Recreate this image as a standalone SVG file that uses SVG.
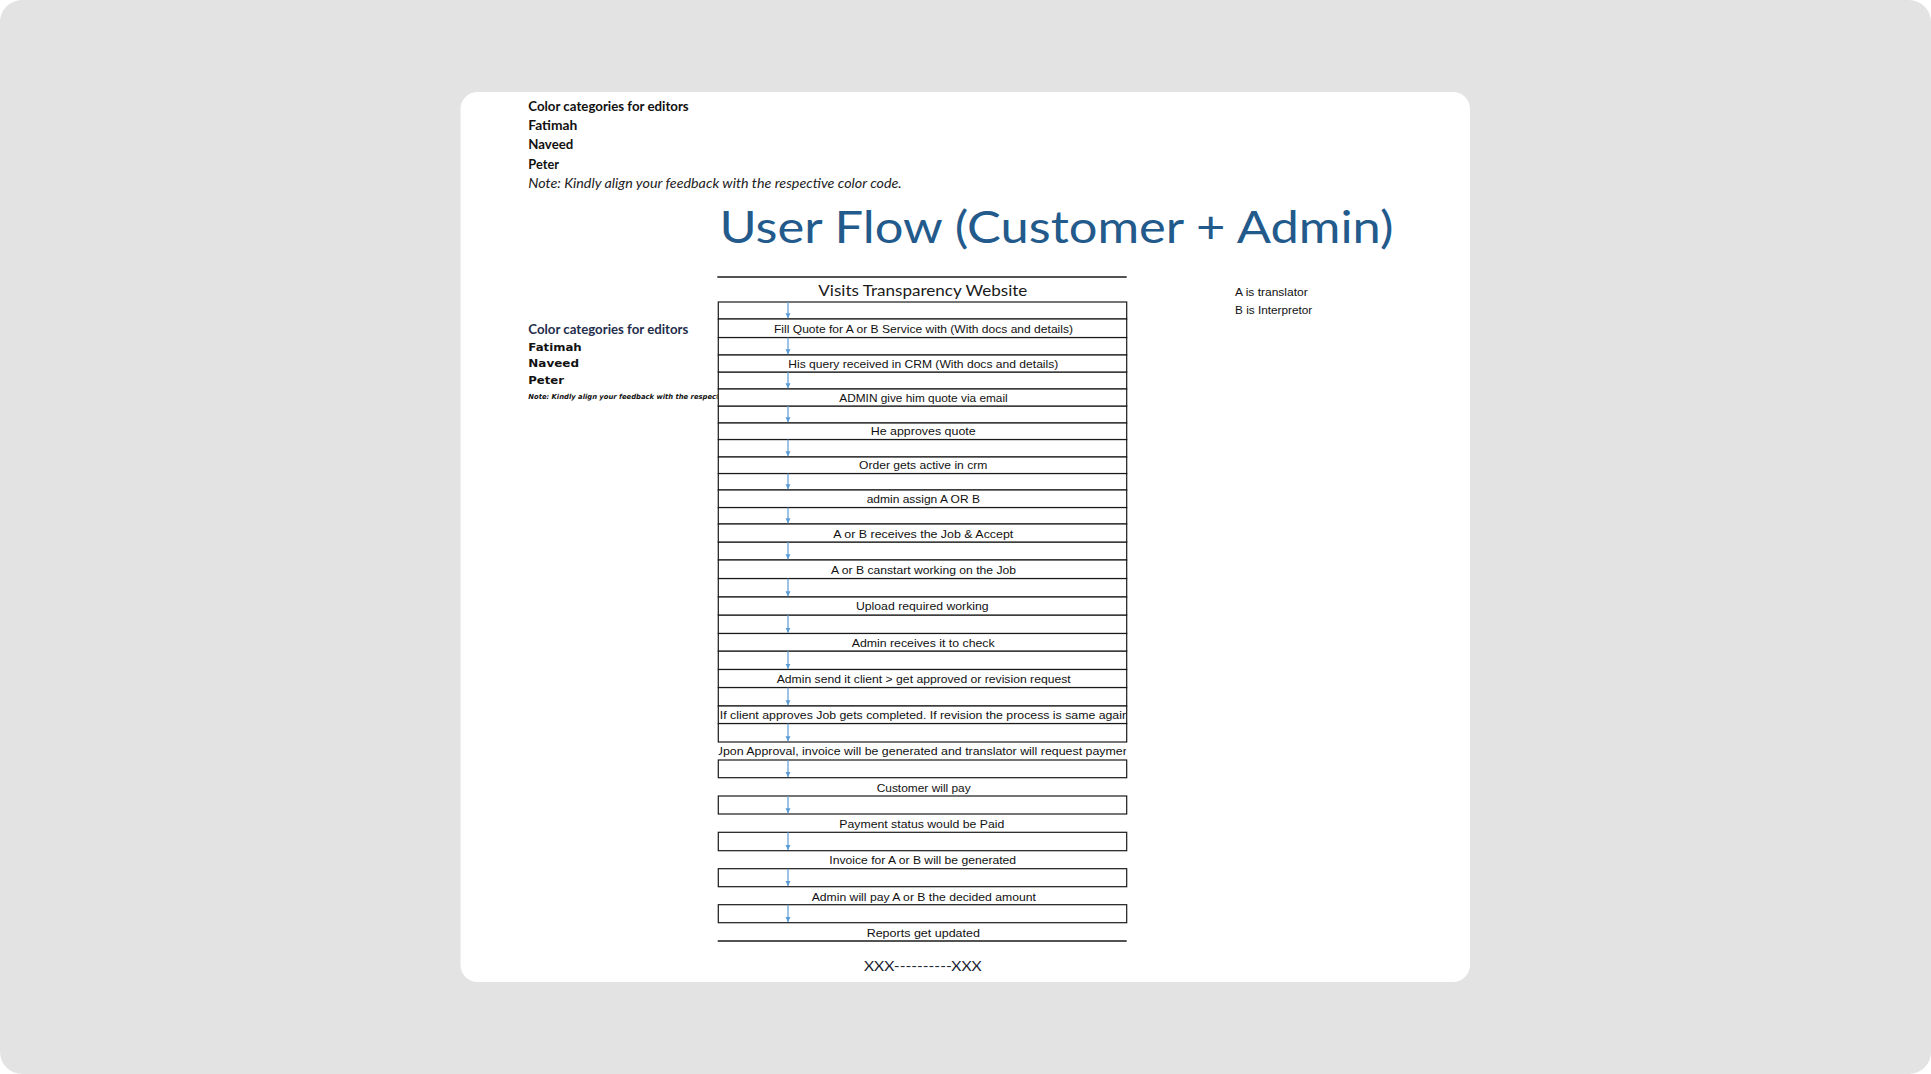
<svg xmlns="http://www.w3.org/2000/svg" width="1931" height="1074" viewBox="0 0 1931 1074">
<style>
.cell{fill:#fff;stroke:#1a1a1a;stroke-width:1.2}
.rule{stroke:#1a1a1a;stroke-width:1.3}
.lbl{font-family:"Liberation Sans",Arial,sans-serif;font-size:11.5px;fill:#111;text-anchor:middle}
.leg{font-family:Lato,"Liberation Sans",Arial,sans-serif;font-size:13px;font-weight:bold;fill:#111}
.leg2{font-family:"DejaVu Sans",Verdana,sans-serif;font-size:10px;font-weight:bold;fill:#111}
.note{font-family:Lato,"Liberation Sans",Arial,sans-serif;font-size:13px;font-style:italic;fill:#222}
.side{font-family:"Liberation Sans",Arial,sans-serif;font-size:11.5px;fill:#111}
.arrow{stroke:#5B9BD5;stroke-width:1.2;fill:none;marker-end:url(#ah)}
</style>
<defs>
<marker id="ah" viewBox="0 0 10 10" refX="10" refY="5" markerUnits="userSpaceOnUse" markerWidth="5" markerHeight="5.5" orient="auto">
<path d="M0,0 L10,5 L0,10 z" fill="#5B9BD5"/>
</marker>
<clipPath id="tclip"><rect x="718.6" y="690" width="407.6" height="80"/></clipPath>
<clipPath id="nclip"><rect x="520" y="390" width="197.5" height="15"/></clipPath>
</defs>

<g id="background">
<rect x="0" y="0" width="1931" height="1074" fill="#ffffff"/>
<rect x="0" y="0" width="1931" height="1074" rx="22" fill="#e3e3e3"/>
<rect x="460.5" y="92" width="1009.5" height="890" rx="17" fill="#ffffff"/>
</g>

<g id="legend-top">
<text class="leg" x="528.3" y="111" textLength="160.4" lengthAdjust="spacingAndGlyphs">Color categories for editors</text>
<text class="leg" x="528.3" y="130" textLength="49" lengthAdjust="spacingAndGlyphs">Fatimah</text>
<text class="leg" x="528.3" y="149.3" textLength="45" lengthAdjust="spacingAndGlyphs">Naveed</text>
<text class="leg" x="528.3" y="168.8" textLength="30.7" lengthAdjust="spacingAndGlyphs">Peter</text>
<text class="note" x="528.3" y="188.3" textLength="373.4" lengthAdjust="spacingAndGlyphs">Note: Kindly align your feedback with the respective color code.</text>
</g>

<g id="title">
<text x="719.5" y="242.5" font-family="Lato,'Open Sans',sans-serif" font-size="45" fill="#235a8c" textLength="674" lengthAdjust="spacingAndGlyphs">User Flow (Customer + Admin)</text>
</g>

<g id="legend-side">
<text class="leg" x="528.3" y="334.3" style="fill:#1f2d4d" textLength="160" lengthAdjust="spacingAndGlyphs">Color categories for editors</text>
<text class="leg2" x="528.3" y="350.7" textLength="53.4" lengthAdjust="spacingAndGlyphs">Fatimah</text>
<text class="leg2" x="528.3" y="367.3" textLength="50.7" lengthAdjust="spacingAndGlyphs">Naveed</text>
<text class="leg2" x="528.3" y="384" textLength="35.7" lengthAdjust="spacingAndGlyphs">Peter</text>
<g clip-path="url(#nclip)">
<text x="528.3" y="399.3" font-family="'DejaVu Sans',sans-serif" font-size="7" font-weight="bold" font-style="italic" fill="#111" textLength="247" lengthAdjust="spacingAndGlyphs">Note: Kindly align your feedback with the respective color code.</text>
</g>
</g>

<g id="notes-right">
<text class="side" x="1235" y="296" textLength="72.7" lengthAdjust="spacingAndGlyphs">A is translator</text>
<text class="side" x="1235" y="314.3" textLength="77.3" lengthAdjust="spacingAndGlyphs">B is Interpretor</text>
</g>

<g id="grid">
<rect class="cell" x="718.3" y="302" width="408.4" height="17"/>
<rect class="cell" x="718.3" y="337.5" width="408.4" height="17.5"/>
<rect class="cell" x="718.3" y="372" width="408.4" height="17"/>
<rect class="cell" x="718.3" y="406" width="408.4" height="17"/>
<rect class="cell" x="718.3" y="439.5" width="408.4" height="17.5"/>
<rect class="cell" x="718.3" y="473.5" width="408.4" height="16.5"/>
<rect class="cell" x="718.3" y="507.5" width="408.4" height="16.5"/>
<rect class="cell" x="718.3" y="542" width="408.4" height="18"/>
<rect class="cell" x="718.3" y="578.5" width="408.4" height="18.5"/>
<rect class="cell" x="718.3" y="615" width="408.4" height="18.5"/>
<rect class="cell" x="718.3" y="651" width="408.4" height="18.5"/>
<rect class="cell" x="718.3" y="687.5" width="408.4" height="18.5"/>
<rect class="cell" x="718.3" y="723.5" width="408.4" height="18.5"/>
<rect class="cell" x="718.3" y="760" width="408.4" height="17.7"/>
<rect class="cell" x="718.3" y="796" width="408.4" height="18"/>
<rect class="cell" x="718.3" y="832.3" width="408.4" height="18.4"/>
<rect class="cell" x="718.3" y="868.7" width="408.4" height="18"/>
<rect class="cell" x="718.3" y="904.7" width="408.4" height="18"/>
</g>

<g id="n0">
<line class="rule" x1="717.3" y1="277" x2="1126.7" y2="277"/>
<text x="922.8" y="295.7" font-family="Lato,'Open Sans',sans-serif" font-size="16" fill="#1a1a1a" text-anchor="middle" textLength="209" lengthAdjust="spacingAndGlyphs">Visits Transparency Website</text>
</g>
<g id="n1"><rect class="cell" x="718.3" y="319" width="408.4" height="18.5"/><text class="lbl" x="923.5" y="333.3" textLength="299" lengthAdjust="spacingAndGlyphs">Fill Quote for A or B Service with (With docs and details)</text></g>
<g id="n2"><rect class="cell" x="718.3" y="355" width="408.4" height="17"/><text class="lbl" x="923.3" y="367.5" textLength="270" lengthAdjust="spacingAndGlyphs">His query received in CRM (With docs and details)</text></g>
<g id="n3"><rect class="cell" x="718.3" y="389" width="408.4" height="17"/><text class="lbl" x="923.5" y="401.7" textLength="168.4" lengthAdjust="spacingAndGlyphs">ADMIN give him quote via email</text></g>
<g id="n4"><rect class="cell" x="718.3" y="423" width="408.4" height="16.5"/><text class="lbl" x="923.2" y="435" textLength="105" lengthAdjust="spacingAndGlyphs">He approves quote</text></g>
<g id="n5"><rect class="cell" x="718.3" y="457" width="408.4" height="16.5"/><text class="lbl" x="923.2" y="468.5" textLength="128.3" lengthAdjust="spacingAndGlyphs">Order gets active in crm</text></g>
<g id="n6"><rect class="cell" x="718.3" y="490" width="408.4" height="17.5"/><text class="lbl" x="923.3" y="502.7" textLength="113.3" lengthAdjust="spacingAndGlyphs">admin assign A OR B</text></g>
<g id="n7"><rect class="cell" x="718.3" y="524" width="408.4" height="18"/><text class="lbl" x="923.3" y="537.7" textLength="180" lengthAdjust="spacingAndGlyphs">A or B receives the Job &amp; Accept</text></g>
<g id="n8"><rect class="cell" x="718.3" y="560" width="408.4" height="18.5"/><text class="lbl" x="923.5" y="574" textLength="185" lengthAdjust="spacingAndGlyphs">A or B canstart working on the Job</text></g>
<g id="n9"><rect class="cell" x="718.3" y="597" width="408.4" height="18"/><text class="lbl" x="922.3" y="610.2" textLength="132.7" lengthAdjust="spacingAndGlyphs">Upload required working</text></g>
<g id="n10"><rect class="cell" x="718.3" y="633.5" width="408.4" height="17.5"/><text class="lbl" x="923.2" y="646.5" textLength="143" lengthAdjust="spacingAndGlyphs">Admin receives it to check</text></g>
<g id="n11"><rect class="cell" x="718.3" y="669.5" width="408.4" height="18"/><text class="lbl" x="923.7" y="683.3" textLength="294" lengthAdjust="spacingAndGlyphs">Admin send it client &gt; get approved or revision request</text></g>
<g id="n12"><rect class="cell" x="718.3" y="706" width="408.4" height="17.5"/><g clip-path="url(#tclip)"><text class="lbl" x="924.3" y="719.3" textLength="409" lengthAdjust="spacingAndGlyphs">If client approves Job gets completed. If revision the process is same again</text></g></g>
<g id="n13"><g clip-path="url(#tclip)"><text class="lbl" x="923.5" y="755.2" textLength="419" lengthAdjust="spacingAndGlyphs">Upon Approval, invoice will be generated and translator will request payment</text></g></g>
<g id="n14"><text class="lbl" x="923.7" y="791.7" textLength="94" lengthAdjust="spacingAndGlyphs">Customer will pay</text></g>
<g id="n15"><text class="lbl" x="921.8" y="827.5" textLength="165" lengthAdjust="spacingAndGlyphs">Payment status would be Paid</text></g>
<g id="n16"><text class="lbl" x="922.7" y="864" textLength="186.7" lengthAdjust="spacingAndGlyphs">Invoice for A or B will be generated</text></g>
<g id="n17"><text class="lbl" x="923.8" y="900.7" textLength="224.3" lengthAdjust="spacingAndGlyphs">Admin will pay A or B the decided amount</text></g>
<g id="n18">
<text class="lbl" x="923.3" y="936.7" textLength="113.3" lengthAdjust="spacingAndGlyphs">Reports get updated</text>
<line class="rule" x1="717.7" y1="941" x2="1126.7" y2="941"/>
</g>

<g id="footer">
<text x="922.8" y="970.7" font-family="Lato,'Open Sans',sans-serif" font-size="14" fill="#1a1f33" text-anchor="middle" textLength="117.7" lengthAdjust="spacingAndGlyphs">XXX----------XXX</text>
</g>

<g id="connectors">
<line class="arrow" x1="788" y1="302" x2="788" y2="318.3"/>
<line class="arrow" x1="788" y1="337.5" x2="788" y2="354.3"/>
<line class="arrow" x1="788" y1="372" x2="788" y2="388.3"/>
<line class="arrow" x1="788" y1="406" x2="788" y2="422.3"/>
<line class="arrow" x1="788" y1="439.5" x2="788" y2="456.3"/>
<line class="arrow" x1="788" y1="473.5" x2="788" y2="489.3"/>
<line class="arrow" x1="788" y1="507.5" x2="788" y2="523.3"/>
<line class="arrow" x1="788" y1="542" x2="788" y2="559.3"/>
<line class="arrow" x1="788" y1="578.5" x2="788" y2="596.3"/>
<line class="arrow" x1="788" y1="615" x2="788" y2="632.8"/>
<line class="arrow" x1="788" y1="651" x2="788" y2="668.8"/>
<line class="arrow" x1="788" y1="687.5" x2="788" y2="705.3"/>
<line class="arrow" x1="788" y1="723.5" x2="788" y2="741.3"/>
<line class="arrow" x1="788" y1="760" x2="788" y2="777"/>
<line class="arrow" x1="788" y1="796" x2="788" y2="813.3"/>
<line class="arrow" x1="788" y1="832.3" x2="788" y2="850"/>
<line class="arrow" x1="788" y1="868.7" x2="788" y2="886"/>
<line class="arrow" x1="788" y1="904.7" x2="788" y2="922"/>
</g>
</svg>
